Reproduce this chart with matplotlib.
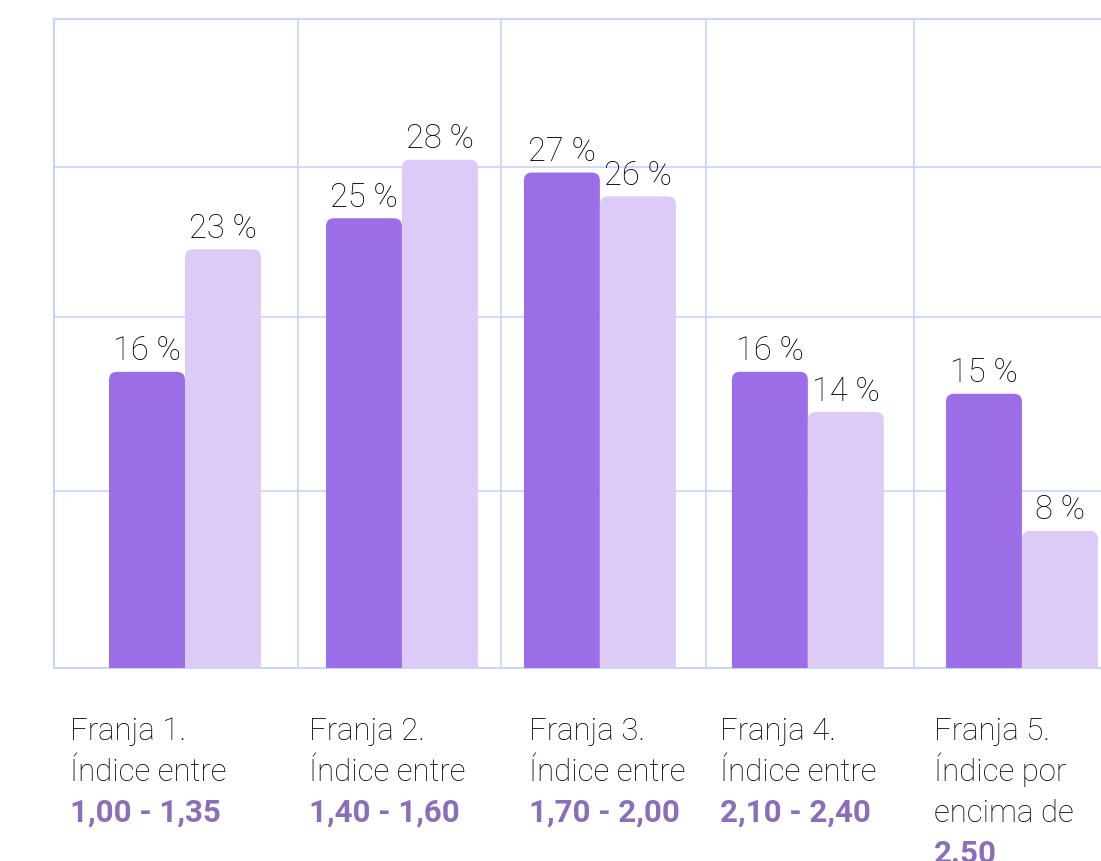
import numpy as np
import matplotlib
matplotlib.use("Agg")
import matplotlib.pyplot as plt
from matplotlib.patches import FancyBboxPatch

plt.rcParams['font.family'] = ['Roboto', 'DejaVu Sans']

# data
franjas = ["Franja 1.", "Franja 2.", "Franja 3.", "Franja 4.", "Franja 5."]
descs = [["Índice entre"], ["Índice entre"], ["Índice entre"], ["Índice entre"], ["Índice por", "encima de"]]
rangos = ["1,00 - 1,35", "1,40 - 1,60", "1,70 - 2,00", "2,10 - 2,40", "2.50"]
serie_a = [16.2, 24.6, 27.1, 16.2, 15.0]
serie_b = [22.9, 27.8, 25.8, 14.0, 7.5]

# layout (group centres are not evenly spaced in the design)
centros = [0, 1.037, 1.983, 2.977, 4.0]
lab_off = [-0.55, -0.444, -0.339, -0.42, -0.42]
vlines = [0.54, 1.51, 2.49, 3.484]

dark = "#9b6ee8"
light = "#dccbf6"
gridc = "#c9d3fb"
rangec = "#8a6fb8"

fig = plt.figure(figsize=(11.01, 8.62), dpi=100)
ax = fig.add_axes([54/1101, 193/862, 1047/1101, 649/862])

x = np.array(centros)
w = 0.363
bars_a = ax.bar(x - w/2, serie_a, w, color=dark)
bars_b = ax.bar(x + w/2, serie_b, w, color=light)

ax.set_xlim(-0.626, 4.378)
ax.set_ylim(0, 35.5)

# swap plain bars for ones with rounded tops
rx = 0.038
ry = 0.44
for bars in (bars_a, bars_b):
    for b in bars:
        b.set_visible(False)
        p = FancyBboxPatch((b.get_x(), -ry), b.get_width(), b.get_height() + ry,
                           boxstyle="round,pad=0,rounding_size=%f" % rx,
                           mutation_aspect=ry/rx, fc=b.get_facecolor(), ec="none",
                           zorder=3)
        ax.add_patch(p)
        ax.annotate("%d %%" % round(b.get_height()),
                    (b.get_x() + b.get_width()/2, b.get_height()),
                    xytext=(0, 9), textcoords="offset points",
                    ha="center", va="baseline", fontsize=23.5, fontweight="light",
                    color="black")

# grid
ax.set_xticks(vlines)
ax.set_yticks([9.7, 19.2, 27.4])
ax.grid(True, color=gridc, lw=1.2, zorder=0)
ax.tick_params(length=0, labelbottom=False, labelleft=False)
for s in ("left", "top", "bottom"):
    ax.spines[s].set_color(gridc)
    ax.spines[s].set_linewidth(1.5)
ax.spines["right"].set_visible(False)

# labels under the groups
tr = ax.get_xaxis_transform()
step = 41 / 649
y0 = -71 / 649
for i in range(len(franjas)):
    xl = x[i] + lab_off[i]
    ax.text(xl, y0, franjas[i], transform=tr, ha="left", va="baseline",
            fontsize=22.4, fontweight="light", color="black")
    for j, d in enumerate(descs[i]):
        ax.text(xl, y0 - step*(j+1), d, transform=tr, ha="left", va="baseline",
                fontsize=22.4, fontweight="light", color="black")
    ax.text(xl, y0 - step*(len(descs[i])+1), rangos[i], transform=tr, ha="left",
            va="baseline", fontsize=22.5, fontweight="bold", color=rangec)

fig.savefig("out.png", dpi=100)
